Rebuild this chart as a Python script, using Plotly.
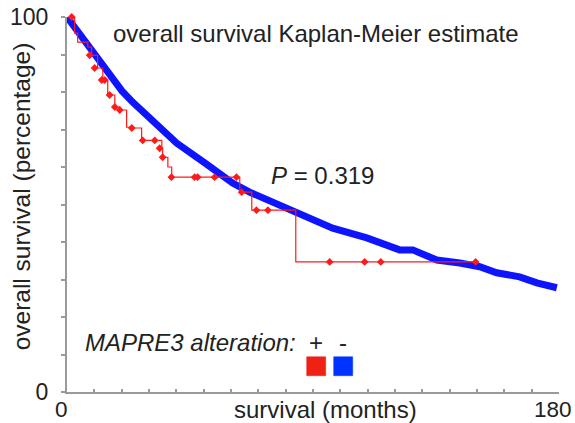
import plotly.graph_objects as go

# ---- data ----
# altered group (+): Kaplan-Meier step points
alt_months = [0, 2.8, 3.9, 7.6, 9.0, 11.2, 13.1, 14.9, 17.5, 19.3, 21.8, 24.0, 27.3,
              34.7, 35.0, 36.9, 38.3, 63.2, 67.6, 83.7, 149.5]
alt_surv = [100, 95.7, 93.3, 92.0, 89.8, 86.4, 83.2, 79.2, 76.0, 75.2, 70.6, 70.4, 67.1,
            65.0, 62.6, 60.0, 57.3, 53.3, 48.5, 34.7, 34.7]
# altered group censor marks
alt_cens_months = [1.7, 8.3, 10.1, 12.7, 13.8, 15.6, 17.5, 19.3, 23.7, 27.7, 32.1, 33.9, 35.0,
                   38.2, 46.7, 47.8, 54.0, 62.0, 63.9, 69.3, 73.5, 96.1, 108.9, 114.8, 149.5]
alt_cens_surv = [100, 89.8, 86.4, 83.2, 83.2, 79.2, 76.0, 75.2, 70.4, 67.1, 67.1, 65.0, 62.6,
                 57.3, 57.3, 57.3, 57.3, 57.3, 53.3, 48.5, 48.5, 34.7, 34.7, 34.7, 34.7]

# unaltered group (-)
unalt_months = [0, 5, 10.1, 15.6, 20.1, 24.0, 32.1, 40.1, 50.4, 60.6, 66.8, 82.6, 97.2, 109.7,
                121.7, 126.5, 135.3, 143.7, 151.0, 157.2, 165.6, 171.9, 179.2]
unalt_surv = [100, 95.1, 90.3, 84.5, 80.3, 77.3, 71.8, 66.4, 61.1, 55.7, 53.3, 48.5, 43.7, 41.1,
              37.9, 37.9, 35.2, 34.4, 33.4, 31.8, 30.7, 29.1, 27.8]

x_tickvals = list(range(0, 181, 10))
x_label_vals = [0, 180]
x_label_text = ["0", "180"]
y_tickvals = list(range(0, 101, 10))
y_ticktext = ["0"] + [""] * 9 + ["100"]

RED = "#ff1a1a"
BLUE = "#0f14ff"
FONT = "Liberation Sans, Arial, sans-serif"
AX = "#9a9a9a"

fig = go.Figure()
fig.add_trace(go.Scatter(x=unalt_months, y=unalt_surv, mode="lines",
                         line=dict(color=BLUE, width=7), showlegend=False,
                         hoverinfo="skip"))
fig.add_trace(go.Scatter(x=alt_months, y=alt_surv, mode="lines",
                         line=dict(color=RED, width=1.2, shape="hv"), showlegend=False,
                         hoverinfo="skip"))
fig.add_trace(go.Scatter(x=alt_cens_months, y=alt_cens_surv, mode="markers",
                         marker=dict(symbol="diamond", size=6, color=RED),
                         showlegend=False, hoverinfo="skip", cliponaxis=False))

fig.update_layout(
    width=575, height=423,
    margin=dict(l=67.3, r=15.7, t=16.7, b=30.7, autoexpand=False),
    paper_bgcolor="white", plot_bgcolor="white",
    font=dict(family=FONT, size=24, color="#222222"),
    showlegend=False,
)
fig.update_xaxes(range=[0, 180], tickvals=x_tickvals, showticklabels=False,
                 ticks="inside", ticklen=3, tickwidth=1.5, tickcolor=AX,
                 showline=True, linecolor=AX, linewidth=2, showgrid=False, zeroline=False,
                 automargin=False)
fig.update_yaxes(range=[0, 100], tickvals=y_tickvals, ticktext=y_ticktext,
                 ticks="outside", ticklen=4, tickwidth=1.5, tickcolor=AX,
                 showline=True, linecolor=AX, linewidth=2, showgrid=False, zeroline=False,
                 ticklabelstandoff=8, automargin=False,
                 tickfont=dict(family=FONT, size=23, color="#222222"))

LABEL_Y = (392.3 - 410) / 375.6
for v, t in zip(x_label_vals, x_label_text):
    fig.add_annotation(text=t, x=v, y=LABEL_Y, xref="x", yref="paper", xshift=-6,
                       xanchor="center", yanchor="middle", showarrow=False,
                       font=dict(family=FONT, size=22.5, color="#222222"))

def ann(text, x, y, xanchor="center", yanchor="middle", angle=0, size=24):
    fig.add_annotation(text=text, x=x, y=y, xref="paper", yref="paper",
                       xanchor=xanchor, yanchor=yanchor, textangle=angle,
                       showarrow=False, font=dict(family=FONT, size=size, color="#222222"))

ann("overall survival Kaplan-Meier estimate", 0.5065, 0.9566)
ann("<i>P</i> = 0.319", 0.5187, 0.5785)
ann("survival (months)", 0.525, LABEL_Y)
ann("overall survival (percentage)", -0.092, 0.521, angle=-90, size=24.5)
ann("<i>MAPRE3 alteration:</i>", 0.0319, 0.131, xanchor="left")
ann("+", (316.5 - 67.3) / 492, (392.3 - 343) / 375.6)
ann("-", (343.5 - 67.3) / 492, (392.3 - 343) / 375.6)

# legend colour squares
for x0, col in [(307, "#ef2014"), (334, "#0033ff")]:
    fig.add_shape(type="rect", xref="paper", yref="paper",
                  x0=(x0 - 67.3) / 492, x1=(x0 + 19 - 67.3) / 492,
                  y0=(392.3 - 376) / 375.6, y1=(392.3 - 357) / 375.6,
                  fillcolor=col, line=dict(color=col, width=0.5))

fig.write_html("out.html")
